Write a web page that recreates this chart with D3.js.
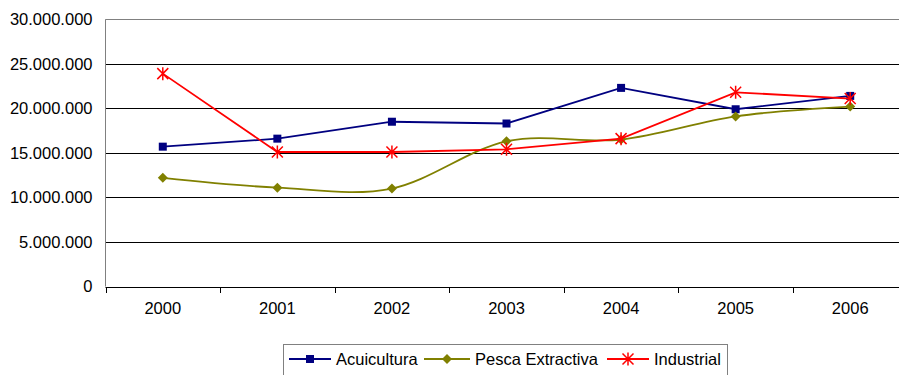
<!DOCTYPE html>
<html><head><meta charset="utf-8">
<script src="https://cdn.jsdelivr.net/npm/d3@7"></script>
<style>body{margin:0;background:#fff;}svg{display:block;font-family:"Liberation Sans",Arial,sans-serif;}</style>
</head><body><svg id="c" width="899" height="375"></svg>
<script>
const years = ["2000","2001","2002","2003","2004","2005","2006"];
const acuicultura = [15.7e6,16.6e6,18.5e6,18.3e6,22.3e6,19.9e6,21.4e6];
const pescaExtractiva = [12.2e6,11.1e6,11.0e6,16.3e6,16.5e6,19.1e6,20.2e6];
const industrial = [23.9e6,15.1e6,15.1e6,15.4e6,16.6e6,21.8e6,21.1e6];
const yTicks = [0,5e6,10e6,15e6,20e6,25e6,30e6];
const seriesNames = ["Acuicultura","Pesca Extractiva","Industrial"];

(function(){
const svg = d3.select("#c");
const FS = "16.5px";
const pL = 105.5, pR = 907.5, pT = 19.3, pB = 286.5;
const x = d3.scaleBand().domain(years).range([pL, pR]);
const y = d3.scaleLinear().domain([0,30e6]).range([pB, pT]);
const fmt = v => d3.format(",")(v).replace(/,/g, ".");

svg.append("g").selectAll("line").data(yTicks.filter(t=>t>0 && t<30e6)).join("line")
  .attr("x1", pL).attr("x2", pR)
  .attr("y1", d=>Math.round(y(d))+0.5).attr("y2", d=>Math.round(y(d))+0.5)
  .attr("stroke","#000").attr("stroke-width",1);
svg.append("line").attr("x1",pL).attr("x2",pR).attr("y1",Math.round(pT)+0.5).attr("y2",Math.round(pT)+0.5).attr("stroke","#808080");
svg.append("line").attr("x1",pL).attr("x2",pL).attr("y1",pT).attr("y2",pB).attr("stroke","#808080");

const yAxis = d3.axisLeft(y).tickValues(yTicks).tickFormat(fmt).tickSize(0).tickPadding(13);
const gy = svg.append("g").attr("transform",`translate(${pL},0)`).call(yAxis);
gy.select(".domain").remove();
gy.selectAll("text").attr("font-size",FS).attr("fill","#000").attr("font-family","Liberation Sans, Arial, sans-serif");

const xAxis = d3.axisBottom(x).tickSize(0).tickPadding(15);
const gx = svg.append("g").attr("transform",`translate(0,${Math.round(pB)+0.5})`).call(xAxis);
gx.select(".domain").remove();
gx.selectAll("text").attr("font-size",FS).attr("fill","#000").attr("font-family","Liberation Sans, Arial, sans-serif");
svg.append("line").attr("x1",pL).attr("x2",pR).attr("y1",Math.round(pB)+0.5).attr("y2",Math.round(pB)+0.5).attr("stroke","#000");
const bounds = years.map(d=>x(d)).concat([x(years[years.length-1])+x.bandwidth()]);
svg.append("g").selectAll("line").data(bounds).join("line")
  .attr("x1",d=>Math.round(d)+0.5).attr("x2",d=>Math.round(d)+0.5)
  .attr("y1",Math.round(pB)).attr("y2",Math.round(pB)+6).attr("stroke","#000");

const cx = d => x(d) + x.bandwidth()/2;
const series = [
  {name:seriesNames[0], vals:acuicultura, color:"#000080", marker:"square", curve:d3.curveLinear},
  {name:seriesNames[1], vals:pescaExtractiva, color:"#808000", marker:"diamond", curve:d3.curveCardinal.tension(0)},
  {name:seriesNames[2], vals:industrial, color:"#FF0000", marker:"star", curve:d3.curveLinear}
];

function drawMarker(g, type, color, px, py){
  if(type==="square"){
    g.append("rect").attr("x",px-4).attr("y",py-4).attr("width",8).attr("height",8).attr("fill",color);
  } else if(type==="diamond"){
    g.append("path").attr("d",`M${px},${py-5}L${px+5},${py}L${px},${py+5}L${px-5},${py}Z`).attr("fill",color);
  } else {
    const s=5.5;
    g.append("path").attr("d",`M${px-s},${py-s}L${px+s},${py+s}M${px-s},${py+s}L${px+s},${py-s}M${px},${py-s-1}L${px},${py+s+1}`)
      .attr("stroke",color).attr("stroke-width",1.5).attr("fill","none");
  }
}

series.forEach(s=>{
  const line = d3.line().x((d,i)=>cx(years[i])).y(d=>y(d)).curve(s.curve);
  const g = svg.append("g");
  g.append("path").attr("d",line(s.vals)).attr("fill","none").attr("stroke",s.color).attr("stroke-width",1.8);
  s.vals.forEach((v,i)=>drawMarker(g, s.marker, s.color, cx(years[i]), y(v)));
});

const lg = svg.append("g");
lg.append("rect").attr("x",283.5).attr("y",344.5).attr("width",444).attr("height",40).attr("fill","#fff").attr("stroke","#808080");
const items = [{x0:289,x1:331,tx:336},{x0:424,x1:470,tx:475},{x0:607,x1:649,tx:654}];
series.forEach((s,i)=>{
  const it = items[i], ly = 359;
  lg.append("line").attr("x1",it.x0).attr("x2",it.x1).attr("y1",ly).attr("y2",ly).attr("stroke",s.color).attr("stroke-width",1.8);
  drawMarker(lg, s.marker, s.color, (it.x0+it.x1)/2, ly);
  lg.append("text").attr("x",it.tx).attr("y",ly+6).attr("font-size",FS).attr("fill","#000").text(s.name);
});
})();
</script></body></html>
